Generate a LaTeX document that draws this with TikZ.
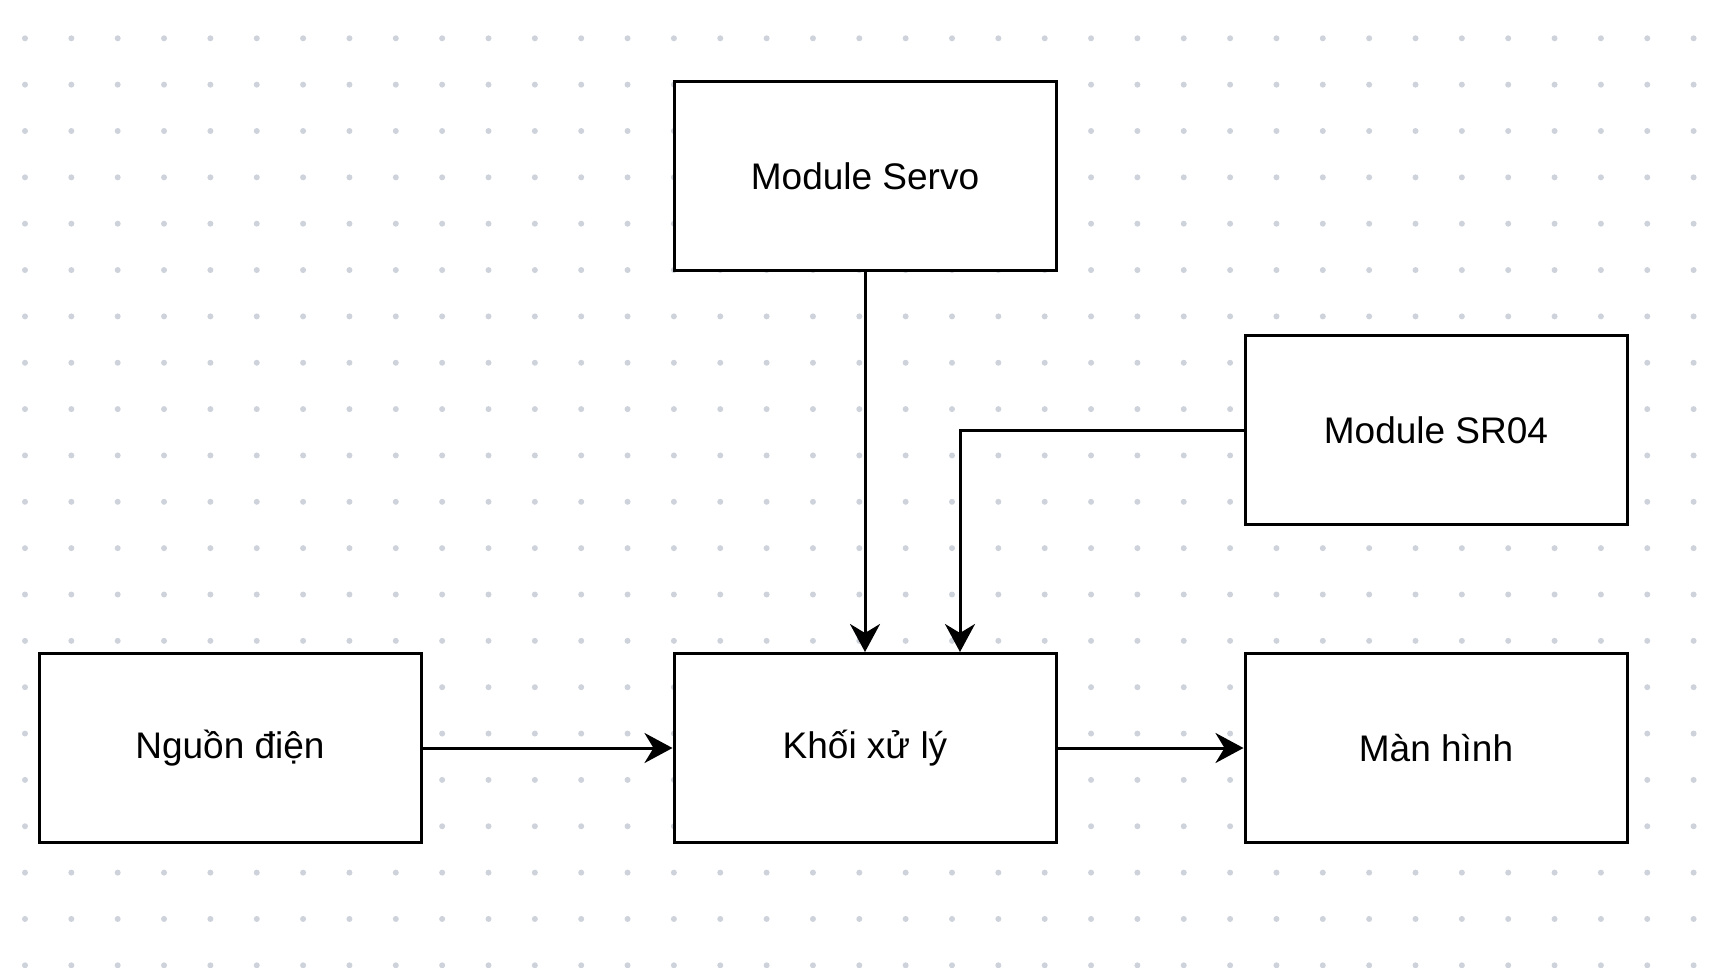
\documentclass[tikz,border=0pt]{standalone}
\usepackage{fontspec}
\setmainfont{Liberation Sans}
\usetikzlibrary{arrows.meta}
\definecolor{dotgrey}{HTML}{CDD2DB}

\begin{document}
\begin{tikzpicture}[x=1pt, y=-1pt,
    block/.style={draw, line width=3pt, fill=white, minimum width=382pt, minimum height=189pt,
      font=\fontsize{37}{44}\selectfont},
    arr/.style={line width=3pt, -{Stealth[length=28pt,width=30pt,inset=9pt]}}]
    \useasboundingbox (0,0) rectangle (1718,968);
    % dot grid
    \foreach \i in {0,...,36}
      \foreach \j in {0,...,20}
        \fill [dotgrey] (25+\i*46.35, 38.3+\j*46.35) circle (3pt);
    \node [block] (servo) at (865, 176.5) {Module Servo};
    \node [block] (sr) at (1436, 430.3) {Module SR04};
    \node [block] (nguon) at (230, 748) {Nguồn điện};
    \node [block] (xuly) at (865, 748) {Khối xử lý};
    \node [block] (manhinh) at (1436, 748) {Màn hình};
    \coordinate (bend) at (960, 430.3);
    \draw [arr] (servo) to (xuly);
    \draw [arr] (sr.west) -- (bend) -- (xuly.north -| bend);
    \draw [arr] (nguon) to (xuly);
    \draw [arr] (xuly) to (manhinh);
  \end{tikzpicture}
\end{document}
